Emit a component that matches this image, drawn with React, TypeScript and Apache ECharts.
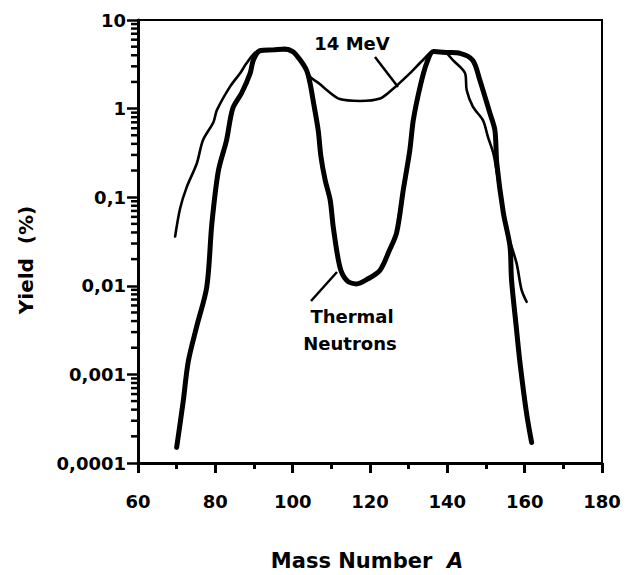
import React, { useEffect, useRef } from "react";
import * as echarts from "echarts";

// Thermal-neutron fission yield curve (mass number, yield %)
const thermalA = [70, 71.7, 73, 75.2, 77.8, 79.1, 80.8, 82.9, 84.5, 86.8, 89, 89.8, 91.5, 95, 98, 100, 101.9, 103.6, 104.5, 105.4, 106.6, 107.3, 108.4, 109.7, 110.5, 112.2, 114, 116.5, 119.5, 122.6, 125, 126.9, 128.6, 130.3, 131.2, 133, 134.7, 136.4, 140, 143.3, 146.6, 148.4, 151, 152.3, 152.8, 154.5, 156.2, 156.6, 157.9, 158.8, 160.5, 161.8];
const thermalYield = [0.00015, 0.0005, 0.0014, 0.0035, 0.0098, 0.05, 0.2, 0.44, 1.0, 1.5, 2.5, 3.5, 4.5, 4.6, 4.7, 4.4, 3.55, 2.7, 1.93, 1.16, 0.57, 0.29, 0.156, 0.093, 0.046, 0.0164, 0.0115, 0.0105, 0.012, 0.015, 0.025, 0.04, 0.12, 0.34, 0.74, 1.8, 3.3, 4.4, 4.3, 4.2, 3.5, 2.1, 0.89, 0.57, 0.24, 0.066, 0.028, 0.0117, 0.0032, 0.00134, 0.00036, 0.00017];

// 14 MeV neutron fission yield curve
const mev14A = [69.6, 70.9, 72.6, 75.2, 76.8, 79.5, 80.4, 83.8, 86.4, 88.1, 90.7, 93, 97, 100, 101.7, 104.5, 107, 108.8, 112.2, 117.4, 122.6, 125.6, 130.3, 133.7, 136.3, 139, 141.5, 144.6, 145, 146.6, 149.2, 150.5, 152, 153.1, 154.4, 155.3, 157.9, 159.2, 160.5];
const mev14Yield = [0.036, 0.075, 0.13, 0.24, 0.44, 0.7, 0.96, 1.77, 2.5, 3.27, 4.4, 4.5, 4.6, 4.3, 3.6, 2.3, 1.9, 1.62, 1.28, 1.22, 1.3, 1.62, 2.5, 3.54, 4.4, 4.4, 3.5, 2.5, 1.62, 1.05, 0.74, 0.48, 0.3, 0.156, 0.072, 0.043, 0.018, 0.009, 0.0066];

const yTickLabels = ["0,0001", "0,001", "0,01", "0,1", "1", "10"];
const yMinorTicks = [
  0.0002, 0.0003, 0.0004, 0.0005, 0.0006, 0.0007, 0.0008, 0.0009,
  0.002, 0.003, 0.004, 0.005, 0.006, 0.007, 0.008, 0.009,
  0.02, 0.03, 0.04, 0.05, 0.06, 0.07, 0.08, 0.09,
  0.2, 0.3, 0.4, 0.5, 0.6, 0.7, 0.8, 0.9,
  2, 3, 4, 5, 6, 7, 8, 9,
];

const FONT = "DejaVu Sans";

export default function App() {
  const ref = useRef<HTMLDivElement>(null);
  useEffect(() => {
    if (!ref.current) return;
    const chart = echarts.init(ref.current, null, { renderer: "svg" });
    const thermal = thermalA.map((a, i) => [a, thermalYield[i]]);
    const mev = mev14A.map((a, i) => [a, mev14Yield[i]]);
    chart.setOption({
      animation: false,
      backgroundColor: "#fff",
      grid: {
        left: 138,
        top: 20,
        right: 27,
        bottom: 112,
        show: true,
        borderColor: "#000",
        borderWidth: 2,
        backgroundColor: "transparent",
      },
      xAxis: {
        type: "value",
        min: 60,
        max: 180,
        interval: 20,
        axisLine: { show: true, lineStyle: { color: "#000", width: 3 } },
        axisTick: { show: true, length: 10, lineStyle: { color: "#000", width: 3 } },
        minorTick: { show: true, splitNumber: 2, length: 6, lineStyle: { color: "#000", width: 3 } },
        splitLine: { show: false },
        axisLabel: { color: "#000", fontFamily: FONT, fontWeight: "bold", fontSize: 18, margin: 29 },
      },
      yAxis: {
        type: "log",
        logBase: 10,
        min: 0.0001,
        max: 10,
        axisLine: { show: true, lineStyle: { color: "#000", width: 3 } },
        axisTick: { show: true, length: 11, lineStyle: { color: "#000", width: 2.5 } },
        splitLine: { show: false },
        axisLabel: {
          color: "#000",
          fontFamily: FONT,
          fontWeight: "bold",
          fontSize: 18,
          margin: 12,
          formatter: (v: number) => {
            const idx = Math.round(Math.log10(v)) + 4;
            return yTickLabels[idx] ?? "";
          },
        },
      },
      series: [
        {
          type: "custom",
          name: "minor",
          clip: false,
          silent: true,
          data: yMinorTicks.map((v) => [60, v]),
          renderItem: (params: any, api: any) => {
            const p = api.coord([api.value(0), api.value(1)]);
            return {
              type: "line",
              shape: { x1: p[0] - 7, y1: p[1], x2: p[0], y2: p[1] },
              style: { stroke: "#000", lineWidth: 2.5 },
            };
          },
        },
        {
          type: "line",
          name: "14 MeV",
          data: mev,
          showSymbol: false,
          smooth: 0.3,
          lineStyle: { color: "#000", width: 2.6, cap: "round", join: "round" },
        },
        {
          type: "line",
          name: "Thermal Neutrons",
          data: thermal,
          showSymbol: false,
          smooth: 0.3,
          lineStyle: { color: "#000", width: 5, cap: "round", join: "round" },
        },
      ],
      graphic: [
        {
          type: "text",
          x: 352,
          y: 43,
          style: { text: "14 MeV", fill: "#000", font: `bold 18px "${FONT}"`, align: "center", verticalAlign: "middle" },
        },
        {
          type: "line",
          shape: { x1: 375, y1: 57, x2: 398, y2: 87 },
          style: { stroke: "#000", lineWidth: 2.5 },
        },
        {
          type: "text",
          x: 352,
          y: 316,
          style: { text: "Thermal", fill: "#000", font: `bold 18px "${FONT}"`, align: "center", verticalAlign: "middle" },
        },
        {
          type: "text",
          x: 350,
          y: 343,
          style: { text: "Neutrons", fill: "#000", font: `bold 18px "${FONT}"`, align: "center", verticalAlign: "middle" },
        },
        {
          type: "line",
          shape: { x1: 311, y1: 301, x2: 337, y2: 272 },
          style: { stroke: "#000", lineWidth: 2.5 },
        },
        {
          type: "text",
          x: 26,
          y: 260,
          rotation: Math.PI / 2,
          style: { text: "Yield  (%)", fill: "#000", font: `bold 20px "${FONT}"`, align: "center", verticalAlign: "middle" },
        },
        {
          type: "text",
          x: 367,
          y: 561,
          style: {
            text: "{n|Mass Number  }{a|A}",
            align: "center",
            verticalAlign: "middle",
            rich: {
              n: { fill: "#000", fontFamily: FONT, fontWeight: "bold", fontSize: 21 },
              a: { fill: "#000", fontFamily: FONT, fontWeight: "bold", fontStyle: "italic", fontSize: 21 },
            },
          },
        },
      ],
    });
    return () => chart.dispose();
  }, []);
  return (
    <div
      ref={ref}
      style={{ position: "fixed", left: 0, top: 0, width: 629, height: 575, background: "#fff" }}
    />
  );
}
